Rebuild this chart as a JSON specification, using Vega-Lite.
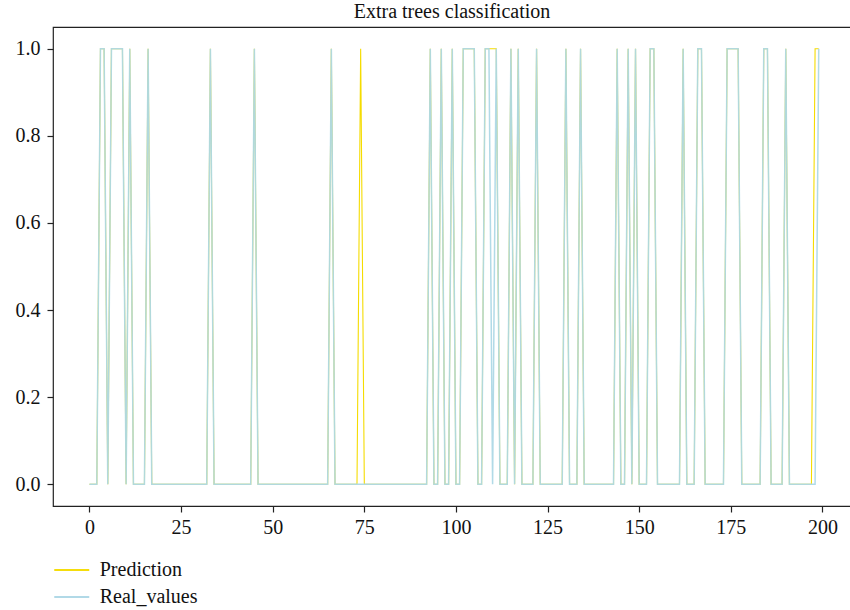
{
  "$schema": "https://vega.github.io/schema/vega-lite/v6.json",
  "autosize": "none",
  "width": 798,
  "height": 479,
  "padding": {"left": 53, "top": 27, "right": 0, "bottom": 104},
  "background": "white",
  "title": {"text": "Extra trees classification", "font": "Liberation Serif", "fontSize": 20, "fontWeight": "normal", "color": "#111111", "offset": 5},
  "data": {"values": [
    {"i":0,"Prediction":0,"Real_values":0},{"i":1,"Prediction":0,"Real_values":0},{"i":2,"Prediction":0,"Real_values":0},{"i":3,"Prediction":1,"Real_values":1},{"i":4,"Prediction":1,"Real_values":1},
    {"i":5,"Prediction":0,"Real_values":0},{"i":6,"Prediction":1,"Real_values":1},{"i":7,"Prediction":1,"Real_values":1},{"i":8,"Prediction":1,"Real_values":1},{"i":9,"Prediction":1,"Real_values":1},
    {"i":10,"Prediction":0,"Real_values":0},{"i":11,"Prediction":1,"Real_values":1},{"i":12,"Prediction":0,"Real_values":0},{"i":13,"Prediction":0,"Real_values":0},{"i":14,"Prediction":0,"Real_values":0},
    {"i":15,"Prediction":0,"Real_values":0},{"i":16,"Prediction":1,"Real_values":1},{"i":17,"Prediction":0,"Real_values":0},{"i":18,"Prediction":0,"Real_values":0},{"i":19,"Prediction":0,"Real_values":0},
    {"i":20,"Prediction":0,"Real_values":0},{"i":21,"Prediction":0,"Real_values":0},{"i":22,"Prediction":0,"Real_values":0},{"i":23,"Prediction":0,"Real_values":0},{"i":24,"Prediction":0,"Real_values":0},
    {"i":25,"Prediction":0,"Real_values":0},{"i":26,"Prediction":0,"Real_values":0},{"i":27,"Prediction":0,"Real_values":0},{"i":28,"Prediction":0,"Real_values":0},{"i":29,"Prediction":0,"Real_values":0},
    {"i":30,"Prediction":0,"Real_values":0},{"i":31,"Prediction":0,"Real_values":0},{"i":32,"Prediction":0,"Real_values":0},{"i":33,"Prediction":1,"Real_values":1},{"i":34,"Prediction":0,"Real_values":0},
    {"i":35,"Prediction":0,"Real_values":0},{"i":36,"Prediction":0,"Real_values":0},{"i":37,"Prediction":0,"Real_values":0},{"i":38,"Prediction":0,"Real_values":0},{"i":39,"Prediction":0,"Real_values":0},
    {"i":40,"Prediction":0,"Real_values":0},{"i":41,"Prediction":0,"Real_values":0},{"i":42,"Prediction":0,"Real_values":0},{"i":43,"Prediction":0,"Real_values":0},{"i":44,"Prediction":0,"Real_values":0},
    {"i":45,"Prediction":1,"Real_values":1},{"i":46,"Prediction":0,"Real_values":0},{"i":47,"Prediction":0,"Real_values":0},{"i":48,"Prediction":0,"Real_values":0},{"i":49,"Prediction":0,"Real_values":0},
    {"i":50,"Prediction":0,"Real_values":0},{"i":51,"Prediction":0,"Real_values":0},{"i":52,"Prediction":0,"Real_values":0},{"i":53,"Prediction":0,"Real_values":0},{"i":54,"Prediction":0,"Real_values":0},
    {"i":55,"Prediction":0,"Real_values":0},{"i":56,"Prediction":0,"Real_values":0},{"i":57,"Prediction":0,"Real_values":0},{"i":58,"Prediction":0,"Real_values":0},{"i":59,"Prediction":0,"Real_values":0},
    {"i":60,"Prediction":0,"Real_values":0},{"i":61,"Prediction":0,"Real_values":0},{"i":62,"Prediction":0,"Real_values":0},{"i":63,"Prediction":0,"Real_values":0},{"i":64,"Prediction":0,"Real_values":0},
    {"i":65,"Prediction":0,"Real_values":0},{"i":66,"Prediction":1,"Real_values":1},{"i":67,"Prediction":0,"Real_values":0},{"i":68,"Prediction":0,"Real_values":0},{"i":69,"Prediction":0,"Real_values":0},
    {"i":70,"Prediction":0,"Real_values":0},{"i":71,"Prediction":0,"Real_values":0},{"i":72,"Prediction":0,"Real_values":0},{"i":73,"Prediction":0,"Real_values":0},{"i":74,"Prediction":1,"Real_values":0},
    {"i":75,"Prediction":0,"Real_values":0},{"i":76,"Prediction":0,"Real_values":0},{"i":77,"Prediction":0,"Real_values":0},{"i":78,"Prediction":0,"Real_values":0},{"i":79,"Prediction":0,"Real_values":0},
    {"i":80,"Prediction":0,"Real_values":0},{"i":81,"Prediction":0,"Real_values":0},{"i":82,"Prediction":0,"Real_values":0},{"i":83,"Prediction":0,"Real_values":0},{"i":84,"Prediction":0,"Real_values":0},
    {"i":85,"Prediction":0,"Real_values":0},{"i":86,"Prediction":0,"Real_values":0},{"i":87,"Prediction":0,"Real_values":0},{"i":88,"Prediction":0,"Real_values":0},{"i":89,"Prediction":0,"Real_values":0},
    {"i":90,"Prediction":0,"Real_values":0},{"i":91,"Prediction":0,"Real_values":0},{"i":92,"Prediction":0,"Real_values":0},{"i":93,"Prediction":1,"Real_values":1},{"i":94,"Prediction":0,"Real_values":0},
    {"i":95,"Prediction":0,"Real_values":0},{"i":96,"Prediction":1,"Real_values":1},{"i":97,"Prediction":0,"Real_values":0},{"i":98,"Prediction":0,"Real_values":0},{"i":99,"Prediction":1,"Real_values":1},
    {"i":100,"Prediction":0,"Real_values":0},{"i":101,"Prediction":0,"Real_values":0},{"i":102,"Prediction":1,"Real_values":1},{"i":103,"Prediction":1,"Real_values":1},{"i":104,"Prediction":1,"Real_values":1},
    {"i":105,"Prediction":1,"Real_values":1},{"i":106,"Prediction":0,"Real_values":0},{"i":107,"Prediction":0,"Real_values":0},{"i":108,"Prediction":1,"Real_values":1},{"i":109,"Prediction":1,"Real_values":1},
    {"i":110,"Prediction":1,"Real_values":0},{"i":111,"Prediction":1,"Real_values":1},{"i":112,"Prediction":0,"Real_values":0},{"i":113,"Prediction":0,"Real_values":0},{"i":114,"Prediction":0,"Real_values":0},
    {"i":115,"Prediction":1,"Real_values":1},{"i":116,"Prediction":0,"Real_values":0},{"i":117,"Prediction":1,"Real_values":1},{"i":118,"Prediction":0,"Real_values":0},{"i":119,"Prediction":0,"Real_values":0},
    {"i":120,"Prediction":0,"Real_values":0},{"i":121,"Prediction":0,"Real_values":0},{"i":122,"Prediction":1,"Real_values":1},{"i":123,"Prediction":0,"Real_values":0},{"i":124,"Prediction":0,"Real_values":0},
    {"i":125,"Prediction":0,"Real_values":0},{"i":126,"Prediction":0,"Real_values":0},{"i":127,"Prediction":0,"Real_values":0},{"i":128,"Prediction":0,"Real_values":0},{"i":129,"Prediction":0,"Real_values":0},
    {"i":130,"Prediction":1,"Real_values":1},{"i":131,"Prediction":0,"Real_values":0},{"i":132,"Prediction":0,"Real_values":0},{"i":133,"Prediction":0,"Real_values":0},{"i":134,"Prediction":1,"Real_values":1},
    {"i":135,"Prediction":0,"Real_values":0},{"i":136,"Prediction":0,"Real_values":0},{"i":137,"Prediction":0,"Real_values":0},{"i":138,"Prediction":0,"Real_values":0},{"i":139,"Prediction":0,"Real_values":0},
    {"i":140,"Prediction":0,"Real_values":0},{"i":141,"Prediction":0,"Real_values":0},{"i":142,"Prediction":0,"Real_values":0},{"i":143,"Prediction":0,"Real_values":0},{"i":144,"Prediction":1,"Real_values":1},
    {"i":145,"Prediction":0,"Real_values":0},{"i":146,"Prediction":0,"Real_values":0},{"i":147,"Prediction":1,"Real_values":1},{"i":148,"Prediction":0,"Real_values":0},{"i":149,"Prediction":1,"Real_values":1},
    {"i":150,"Prediction":0,"Real_values":0},{"i":151,"Prediction":0,"Real_values":0},{"i":152,"Prediction":0,"Real_values":0},{"i":153,"Prediction":1,"Real_values":1},{"i":154,"Prediction":1,"Real_values":1},
    {"i":155,"Prediction":0,"Real_values":0},{"i":156,"Prediction":0,"Real_values":0},{"i":157,"Prediction":0,"Real_values":0},{"i":158,"Prediction":0,"Real_values":0},{"i":159,"Prediction":0,"Real_values":0},
    {"i":160,"Prediction":0,"Real_values":0},{"i":161,"Prediction":0,"Real_values":0},{"i":162,"Prediction":1,"Real_values":1},{"i":163,"Prediction":0,"Real_values":0},{"i":164,"Prediction":0,"Real_values":0},
    {"i":165,"Prediction":0,"Real_values":0},{"i":166,"Prediction":1,"Real_values":1},{"i":167,"Prediction":1,"Real_values":1},{"i":168,"Prediction":0,"Real_values":0},{"i":169,"Prediction":0,"Real_values":0},
    {"i":170,"Prediction":0,"Real_values":0},{"i":171,"Prediction":0,"Real_values":0},{"i":172,"Prediction":0,"Real_values":0},{"i":173,"Prediction":0,"Real_values":0},{"i":174,"Prediction":1,"Real_values":1},
    {"i":175,"Prediction":1,"Real_values":1},{"i":176,"Prediction":1,"Real_values":1},{"i":177,"Prediction":1,"Real_values":1},{"i":178,"Prediction":0,"Real_values":0},{"i":179,"Prediction":0,"Real_values":0},
    {"i":180,"Prediction":0,"Real_values":0},{"i":181,"Prediction":0,"Real_values":0},{"i":182,"Prediction":0,"Real_values":0},{"i":183,"Prediction":0,"Real_values":0},{"i":184,"Prediction":1,"Real_values":1},
    {"i":185,"Prediction":1,"Real_values":1},{"i":186,"Prediction":0,"Real_values":0},{"i":187,"Prediction":0,"Real_values":0},{"i":188,"Prediction":0,"Real_values":0},{"i":189,"Prediction":0,"Real_values":0},
    {"i":190,"Prediction":1,"Real_values":1},{"i":191,"Prediction":0,"Real_values":0},{"i":192,"Prediction":0,"Real_values":0},{"i":193,"Prediction":0,"Real_values":0},{"i":194,"Prediction":0,"Real_values":0},
    {"i":195,"Prediction":0,"Real_values":0},{"i":196,"Prediction":0,"Real_values":0},{"i":197,"Prediction":0,"Real_values":0},{"i":198,"Prediction":1,"Real_values":0},{"i":199,"Prediction":1,"Real_values":1}
  ]},
  "transform": [{"fold": ["Prediction", "Real_values"], "as": ["series", "value"]}],
  "encoding": {
    "x": {"field": "i", "type": "quantitative",
      "scale": {"domain": [-9.95, 207.8], "nice": false, "zero": false},
      "axis": {"title": null, "values": [0, 25, 50, 75, 100, 125, 150, 175, 200], "grid": false, "domain": false,
        "tickColor": "#222222", "tickSize": 6, "tickWidth": 1.2, "labelPadding": 5,
        "labelFont": "Liberation Serif", "labelFontSize": 20, "labelColor": "#111111"}},
    "y": {"field": "value", "type": "quantitative",
      "scale": {"domain": [-0.05, 1.05], "nice": false, "zero": false},
      "axis": {"title": null, "values": [0, 0.2, 0.4, 0.6, 0.8, 1.0], "format": ".1f", "grid": false, "domain": false,
        "tickColor": "#222222", "tickSize": 6, "tickWidth": 1.2, "labelPadding": 7,
        "labelFont": "Liberation Serif", "labelFontSize": 20, "labelColor": "#111111"}},
    "color": {"field": "series", "type": "nominal",
      "scale": {"domain": ["Prediction", "Real_values"], "range": ["#f5dc00", "#add8e6"]},
      "legend": {"title": null, "orient": "none", "legendX": 8.75, "legendY": 533, "direction": "vertical",
        "symbolType": "M-2,0H2", "symbolSize": 306, "symbolStrokeWidth": 2.2, "labelOffset": 18,
        "labelFont": "Liberation Serif", "labelFontSize": 20, "labelColor": "#111111", "rowPadding": 7, "padding": 0}}
  },
  "layer": [
    {"transform": [{"filter": "datum.series === 'Prediction'"}],
     "mark": {"type": "line", "clip": true, "strokeWidth": 1.1}},
    {"transform": [{"filter": "datum.series === 'Real_values'"}],
     "mark": {"type": "line", "clip": true, "strokeWidth": 1.5, "opacity": 0.95}}
  ],
  "config": {"view": {"stroke": "#222222", "strokeWidth": 1.2}}
}
